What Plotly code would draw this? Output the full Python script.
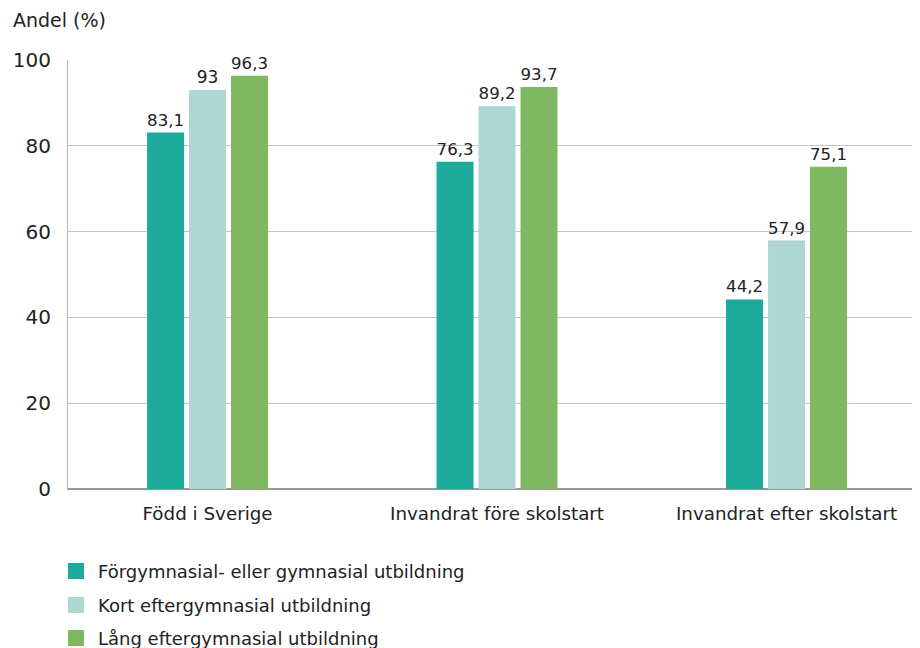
import plotly.graph_objects as go

categories = ["Född i Sverige", "Invandrat före skolstart", "Invandrat efter skolstart"]
series_names = ["Förgymnasial- eller gymnasial utbildning", "Kort eftergymnasial utbildning", "Lång eftergymnasial utbildning"]
forgymnasial = [83.1, 76.3, 44.2]
kort = [93, 89.2, 57.9]
lang = [96.3, 93.7, 75.1]
colors = ["#1dab9b", "#aed6d2", "#80b861"]
y_ticks = [0, 20, 40, 60, 80, 100]

FONT = "DejaVu Sans, Liberation Sans, sans-serif"
OFF = 8  # page body margin
W, H = 920 - OFF, 648 - OFF
L, R, T, B = 68 - OFF, 920 - OFF, 60 - OFF, 489 - OFF
PW, PH = R - L, B - T

def px(x):
    return (x - OFF - L) / PW

def py(y):
    return (B - (y - OFF)) / PH

fig = go.Figure()
for name, vals, col in zip(series_names, [forgymnasial, kort, lang], colors):
    fig.add_trace(go.Bar(
        x=list(range(len(categories))), y=vals, name=name, marker_color=col,
        marker_line_width=0, showlegend=False,
        text=vals, texttemplate="%{y}", textposition="outside",
        textfont=dict(size=17, color="#222", family=FONT), cliponaxis=False,
    ))

shapes = []
annotations = [dict(text="Andel (%)", xref="paper", yref="paper", x=px(11), y=py(20),
                    xanchor="left", yanchor="middle", showarrow=False,
                    font=dict(size=19, color="#222", family=FONT))]
legend_y = [571, 605, 638]
for name, col, yc in zip(series_names, colors, legend_y):
    shapes.append(dict(type="rect", xref="paper", yref="paper",
                       x0=px(68), x1=px(84), y0=py(yc + 8), y1=py(yc - 8),
                       fillcolor=col, line=dict(width=0)))
    annotations.append(dict(text=name, xref="paper", yref="paper", x=px(96), y=py(yc),
                            xanchor="left", yanchor="middle", showarrow=False,
                            font=dict(size=18, color="#222", family=FONT)))

fig.update_layout(
    width=W, height=H,
    margin=dict(l=L, r=W - R, t=T, b=H - B, autoexpand=False),
    paper_bgcolor="white", plot_bgcolor="white",
    font=dict(family=FONT, color="#222"),
    separators=", ",
    barmode="group", bargap=0.565, bargroupgap=0.119,
    showlegend=False,
    shapes=shapes, annotations=annotations,
)
fig.update_xaxes(range=[-0.482, 2.461], tickvals=list(range(len(categories))),
                 ticktext=categories, tickfont=dict(size=18.3, color="#222", family=FONT),
                 showline=True, linecolor="#999", linewidth=1, ticks="", showgrid=False,
                 ticklabelstandoff=8, fixedrange=True)
fig.update_yaxes(range=[0, 100], tickvals=y_ticks, tickfont=dict(size=20, color="#222", family=FONT),
                 showgrid=True, gridcolor="#c4c4c4", gridwidth=1,
                 showline=True, linecolor="#bbb", zeroline=True, zerolinecolor="#999",
                 ticks="outside", ticklen=12, tickcolor="white")
fig.write_html("out.html")
